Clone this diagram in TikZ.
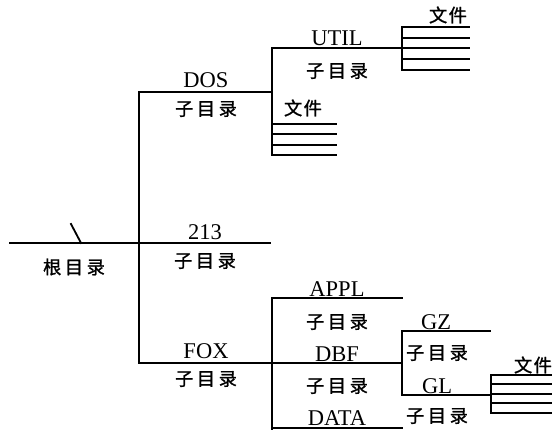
\documentclass[tikz,border=0pt]{standalone}
\usepackage{fontspec}
\setmainfont{Liberation Serif}
\newfontfamily\cjk[FakeBold=1.2]{Noto Sans CJK SC}
\usetikzlibrary{positioning}
\newcommand{\zml}{子\kern2.5pt 目\kern2.5pt 录}
\newcommand{\gml}{根\kern2.5pt 目\kern2.5pt 录}
\newcommand{\wjn}{文\kern1pt 件}
\tikzset{
  br/.style  ={draw, line width=1.3pt, line cap=rect},
  nm/.style  ={font=\fontsize{16}{18}\selectfont, inner sep=0pt},
  cn/.style  ={font=\cjk\fontsize{13}{15}\selectfont, inner sep=0pt},
}

\begin{document}
\begin{tikzpicture}[x=0.025cm,y=-0.025cm]
\useasboundingbox (0,0) rectangle (552,429);
% --- junction points ------------------------------------------------
\coordinate (r0)  at (10,243);
\coordinate (r1)  at (139,243);
\coordinate (r2)  at (270,243);
\coordinate (t0)  at (139,92);
\coordinate (t1)  at (139,363);
\coordinate (dos) at (272,92);
\coordinate (d0)  at (272,48);
\coordinate (d1)  at (272,155);
\coordinate (ut)  at (402,48);
\coordinate (f0)  at (272,363);
\coordinate (f1)  at (272,429);
\coordinate (ap)  at (402,298);
\coordinate (db)  at (402,363);
\coordinate (da)  at (402,428);
\coordinate (g0)  at (402,331);
\coordinate (g1)  at (402,395);
\coordinate (gz)  at (490,331);
\coordinate (gl)  at (491,395);
\coordinate (s0)  at (ut |- 0,27);
\coordinate (s1)  at (ut |- 0,70);
\coordinate (w0)  at (491,375);
\coordinate (w1)  at (491,413);
\coordinate (sl0) at (71,224);
\coordinate (sl1) at (81,243);

% --- branches -------------------------------------------------------
\draw[br] (r0) -- (r1) -- (r2);
\draw[br] (sl0) -- (sl1);
\draw[br] (t0) -- (t1);
\draw[br] (t0) -- (dos);
\draw[br] (d0) -- (d1);
\draw[br] (d0) -- (ut);
\draw[br] (t1) -- (f0) -- (db);
\draw[br] (f1) |- (ap);
\draw[br] (f0 |- da) -- (da);
\draw[br] (g0) -- (g1);
\draw[br] (g0) -- (gz);
\draw[br] (g1) -- (gl);
\draw[br] (s0) -- (s1);
\draw[br] (w0) -- (w1);

% --- file stacks ----------------------------------------------------
\foreach \y in {27,38,48,59,70} \draw[br] (402,\y) -- (469,\y);
\foreach \y in {124,134,145,155} \draw[br] (272,\y) -- (336,\y);
\foreach \y in {375,384,394,403,413} \draw[br] (491,\y) -- (556,\y);

% --- labels ---------------------------------------------------------
\node[cn] (root)  at (74,267)  {\gml};
\node[nm] (nDOS)  at (206,80)  {DOS};
\node[cn] (zDOS)  at (206,109) {\zml};
\node[nm] (n213)  at (205,232) {213};
\node[cn] (z213)  at (205,261) {\zml};
\node[nm] (nFOX)  at (206,351) {FOX};
\node[cn] (zFOX)  at (206,379) {\zml};
\node[nm] (nUTIL) at (337,38)  {UTIL};
\node[cn] (zUTIL) at (337,71)  {\zml};
\node[cn] (wUTIL) at (448,15)  {\wjn};
\node[cn] (wDOS)  at (303,108) {\wjn};
\node[nm] (nAPPL) at (337,289) {APPL};
\node[cn] (zAPPL) at (337,322) {\zml};
\node[nm] (nDBF)  at (337,354) {DBF};
\node[cn] (zDBF)  at (337,386) {\zml};
\node[nm] (nDATA) at (337,418) {DATA};
\node[nm] (nGZ)   at (436,322) {GZ};
\node[cn] (zGZ)   at (437,353) {\zml};
\node[nm] (nGL)   at (437,386) {GL};
\node[cn] (zGL)   at (437,416) {\zml};
\node[cn] (wGL)   at (533,365) {\wjn};
\end{tikzpicture}
\end{document}
